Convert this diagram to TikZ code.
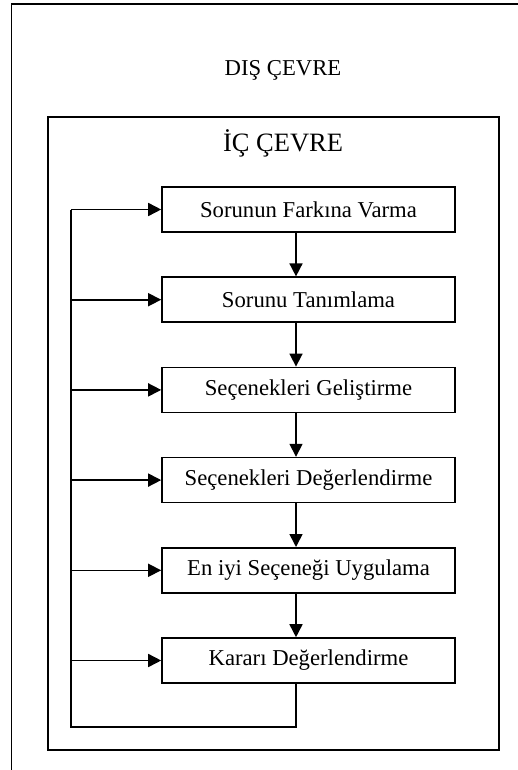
\documentclass[tikz,border=0pt]{standalone}
\usepackage{fontspec}
\setmainfont{Liberation Serif}
\usetikzlibrary{arrows.meta}
\begin{document}
\begin{tikzpicture}[x=1pt,y=-1pt,
  line width=1.6pt,
  stepbox/.style={draw, minimum width=293pt, minimum height=45pt, inner sep=0pt,
    font=\fontsize{22.7}{27}\selectfont},
  arr/.style={-{Triangle[length=13pt,width=13pt]}},
  title/.style={inner sep=0pt, font=\fontsize{22.7}{27}\selectfont},
  bigtitle/.style={inner sep=0pt, font=\fontsize{26.5}{31}\selectfont}]
  \useasboundingbox (0,0) rectangle (518,770);
  \clip (0,0) rectangle (518,770);
  % white page
  \fill[white] (0,0) rectangle (518,770);
  % outer and inner environments
  \draw (11.5,4) rectangle (540,800);
  \draw (48,117) rectangle (499,750);
  \node[title] (dis) at (283,70) {DIŞ ÇEVRE};
  \node[bigtitle] (ic) at (283,143) {İÇ ÇEVRE};
  % process steps
  \node[stepbox] (b1) at (308.5,209.5) {Sorunun Farkına Varma};
  \node[stepbox] (b2) at (308.5,299.7) {Sorunu Tanımlama};
  \node[stepbox] (b3) at (308.5,389.9) {Seçenekleri Geliştirme};
  \node[stepbox] (b4) at (308.5,480.1) {Seçenekleri Değerlendirme};
  \node[stepbox] (b5) at (308.5,570.3) {En iyi Seçeneği Uygulama};
  \node[stepbox] (b6) at (308.5,660.5) {Kararı Değerlendirme};
  % guide coordinates for the connectors
  \coordinate (ax) at (296,0);
  \coordinate (lp) at (71,727);
  % downward flow between steps
  \draw[arr] (b1.south -| ax) -- (b2.north -| ax);
  \draw[arr] (b2.south -| ax) -- (b3.north -| ax);
  \draw[arr] (b3.south -| ax) -- (b4.north -| ax);
  \draw[arr] (b4.south -| ax) -- (b5.north -| ax);
  \draw[arr] (b5.south -| ax) -- (b6.north -| ax);
  % feedback loop
  \draw (b6.south -| ax) |- (lp) -- (b1.west -| lp);
  \foreach \b in {b1,b2,b3,b4,b5,b6}
    \draw[arr] (\b.west -| lp) -- (\b.west);
\end{tikzpicture}
\end{document}
